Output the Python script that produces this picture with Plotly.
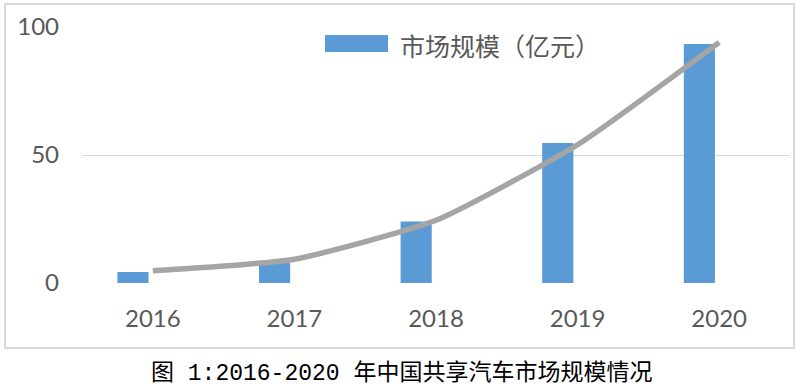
import plotly.graph_objects as go

years = ["2016", "2017", "2018", "2019", "2020"]
market_size = [4.3, 7.8, 24.0, 54.7, 93.4]
trend_line = [4.8, 9.3, 24.5, 54.0, 94.0]
legend_label = "市场规模（亿元）"
caption = "图 1:2016-2020 年中国共享汽车市场规模情况"
y_ticks = [0, 50, 100]

W, H = 800, 387
L, R, T, B = 82, 10, 27, 104
pw, ph = W - L - R, H - T - B

def px(x):
    return (x - L) / pw

def py(y):
    return (H - B - y) / ph

fig = go.Figure()
fig.add_trace(go.Bar(
    x=years, y=market_size, name=legend_label,
    marker=dict(color="#5b9bd5", line=dict(width=0)),
    width=0.22, offset=-0.25, showlegend=False,
))
fig.add_trace(go.Scatter(
    x=years, y=trend_line, mode="lines",
    line=dict(color="#a5a5a5", width=5.5, shape="spline", smoothing=0.5),
    showlegend=False,
))

tick_font = dict(family="Lato, 'Open Sans', sans-serif", size=24, color="#595959")
fig.update_layout(
    width=W, height=H,
    margin=dict(l=L, r=R, t=T, b=B),
    paper_bgcolor="white", plot_bgcolor="white",
    showlegend=False,
    xaxis=dict(
        type="category", showgrid=False, zeroline=False, showline=False,
        ticks="", tickfont=tick_font, ticklabelstandoff=19,
        range=[-0.5, 4.5],
    ),
    yaxis=dict(
        range=[0, 100], tickvals=y_ticks, showgrid=True,
        gridcolor="#d9d9d9", gridwidth=1.2, zeroline=False, showline=False,
        ticks="", tickfont=tick_font, ticklabelstandoff=22,
    ),
    shapes=[
        dict(type="rect", xref="paper", yref="paper",
             x0=px(5), x1=px(794), y0=py(348), y1=py(4),
             line=dict(color="#d9d9d9", width=2), fillcolor="rgba(0,0,0,0)", layer="below"),
        dict(type="rect", xref="paper", yref="paper",
             x0=px(325), x1=px(388), y0=py(52), y1=py(35),
             line=dict(width=0), fillcolor="#5b9bd5"),
    ],
    annotations=[
        dict(text=legend_label, xref="paper", yref="paper", x=px(398), y=py(45),
             xanchor="left", yanchor="middle", showarrow=False,
             font=dict(family="Noto Sans CJK SC", size=25, color="#595959")),
        dict(text=caption, xref="paper", yref="paper", x=px(401), y=py(373),
             xanchor="center", yanchor="middle", showarrow=False,
             font=dict(family="'Liberation Mono', 'Noto Sans CJK SC'", size=23, color="#000000")),
    ],
)

fig.write_html(
    "out.html",
    config={"displayModeBar": False},
    post_script="document.body.style.margin='0';document.body.style.overflow='hidden';",
)
